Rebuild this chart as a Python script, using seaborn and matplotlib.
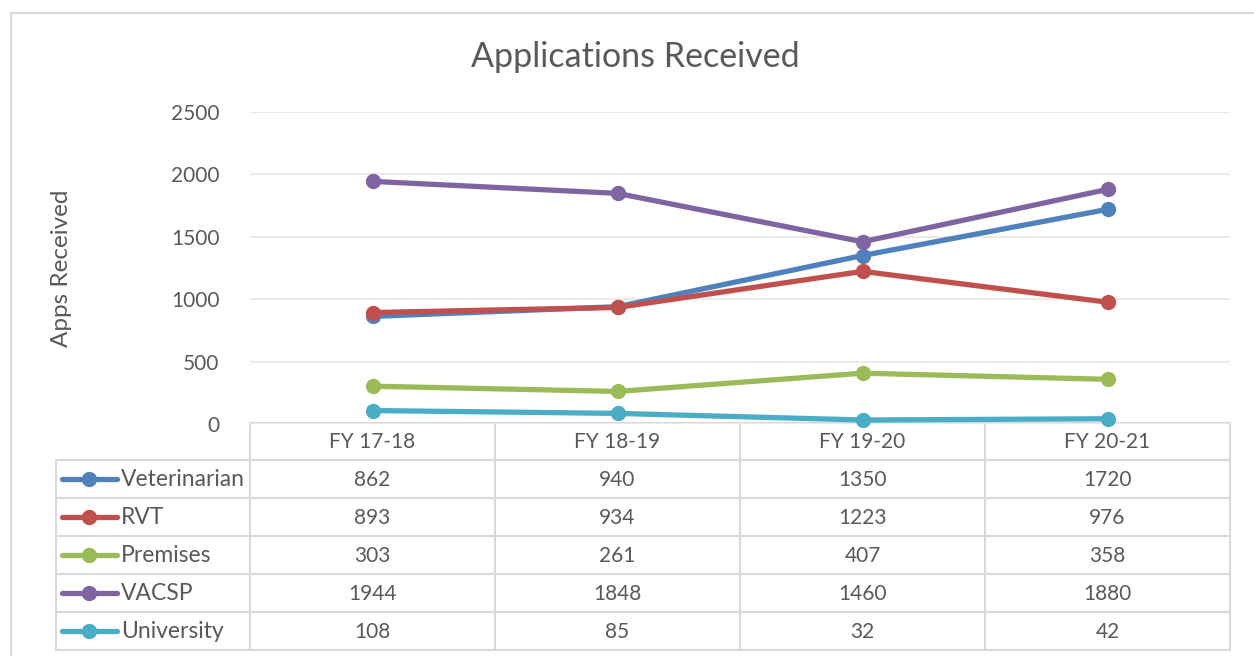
import pandas as pd
import seaborn as sns
import matplotlib.pyplot as plt

years = ['FY 17-18', 'FY 18-19', 'FY 19-20', 'FY 20-21']
series_names = ['Veterinarian', 'RVT', 'Premises', 'VACSP', 'University']
veterinarian = [862, 940, 1350, 1720]
rvt = [893, 934, 1223, 976]
premises = [303, 261, 407, 358]
vacsp = [1944, 1848, 1460, 1880]
university = [108, 85, 32, 42]
colors = ['#4F81BD', '#C0504D', '#9BBB59', '#8064A2', '#4BACC6']

values = [veterinarian, rvt, premises, vacsp, university]
df = pd.DataFrame([
    {'year': y, 'series': name, 'apps': v}
    for name, vals in zip(series_names, values)
    for y, v in zip(years, vals)
])

sns.set_style('white')
plt.rcParams['font.family'] = ['Lato', 'DejaVu Sans']
text_col = '#595959'
border_col = '#D9D9D9'
fs = 15
fs_names = 16.5

W, H = 1254, 656
fig = plt.figure(figsize=(W / 100, H / 100), dpi=100)

# overlay axes in pixel coordinates for frame, title and data table
bg = fig.add_axes([0, 0, 1, 1])
bg.set_xlim(0, W)
bg.set_ylim(H, 0)
bg.axis('off')

bg.plot([11, 11, W], [H, 13, 13], color=border_col, lw=1.5)
bg.text(635, 57, 'Applications Received', ha='center', va='center', fontsize=24.5, color=text_col)
bg.text(62, 268, 'Apps Received', ha='center', va='center', rotation=90, fontsize=17.5, color=text_col)

# table grid
col_edges = [250, 495, 740, 985, 1230]
row_edges = [423, 460, 498, 536, 574, 612, 650]
label_left = 56
bg.plot([col_edges[0], col_edges[-1]], [row_edges[0]] * 2, color=border_col, lw=1.5)
for yy in row_edges[1:]:
    bg.plot([label_left, col_edges[-1]], [yy, yy], color=border_col, lw=1.5)
for xx in col_edges:
    bg.plot([xx, xx], [row_edges[0], row_edges[-1]], color=border_col, lw=1.5)
bg.plot([label_left, label_left], [row_edges[1], row_edges[-1]], color=border_col, lw=1.5)

for j, yr in enumerate(years):
    cx = (col_edges[j] + col_edges[j + 1]) / 2
    bg.text(cx, (row_edges[0] + row_edges[1]) / 2 + 1, yr, ha='center', va='center', fontsize=fs, color=text_col)

for i, (name, vals, c) in enumerate(zip(series_names, values, colors)):
    cy = (row_edges[i + 1] + row_edges[i + 2]) / 2
    bg.plot([62, 117], [cy, cy], color=c, lw=3.8, solid_capstyle='round')
    bg.plot([89], [cy], marker='o', color=c, markersize=10)
    bg.text(121, cy + 1, name, ha='left', va='center', fontsize=fs_names, color=text_col)
    for j, v in enumerate(vals):
        cx = (col_edges[j] + col_edges[j + 1]) / 2
        bg.text(cx, cy + 1, str(v), ha='center', va='center', fontsize=fs, color=text_col)

# main line chart
ax = fig.add_axes([250 / W, 1 - 424 / H, 980 / W, 312 / H])
ax.patch.set_alpha(0)
sns.lineplot(data=df, x='year', y='apps', hue='series', palette=colors, marker='o',
             markersize=11, markeredgewidth=0, linewidth=3.8, legend=False, sort=False, ax=ax)
ax.set_xlim(-0.5, 3.5)
ax.set_ylim(0, 2500)
ax.set_yticks(range(0, 2501, 500))
ax.yaxis.grid(True, color='#ECEAE3', lw=1.5)
ax.set_axisbelow(True)
ax.set_xticks([])
ax.set_xlabel('')
ax.set_ylabel('')
ax.tick_params(axis='y', length=0, pad=22, labelsize=fs, labelcolor=text_col)
for s in ax.spines.values():
    s.set_visible(False)
for line in ax.lines:
    line.set_clip_on(False)

fig.savefig('out.png', dpi=100)
